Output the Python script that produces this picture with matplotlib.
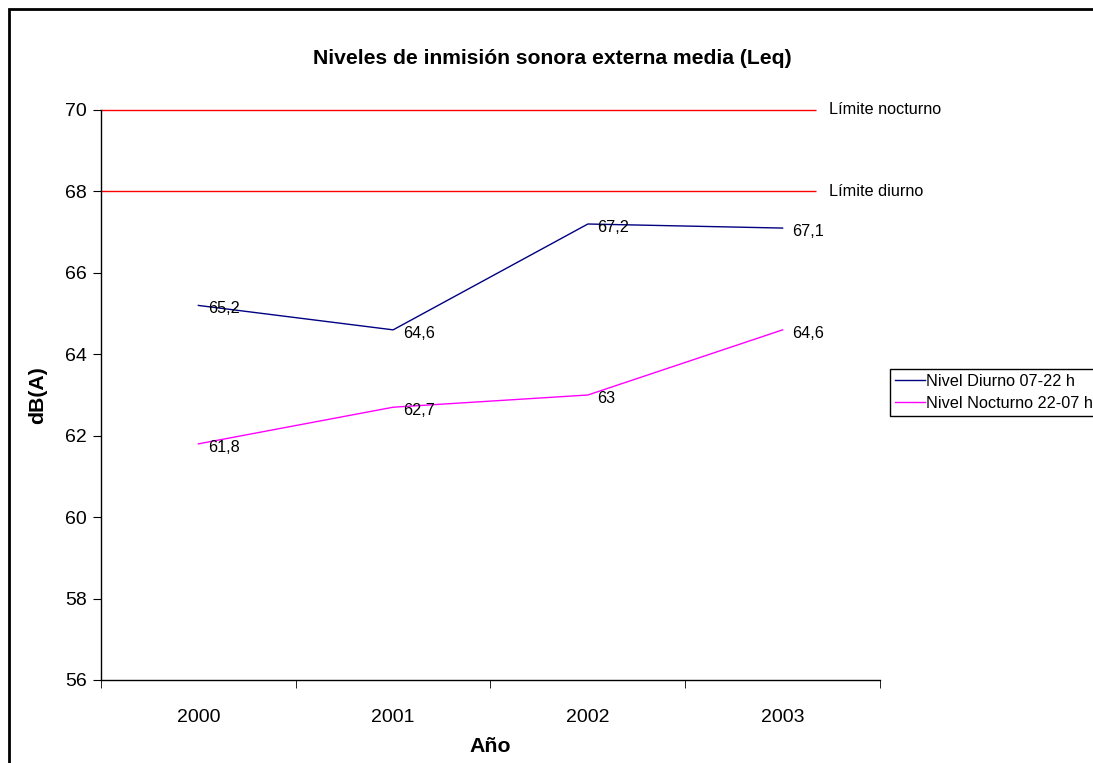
import matplotlib
matplotlib.use("Agg")
import matplotlib.pyplot as plt
from matplotlib.patches import Rectangle

plt.rcParams['font.family'] = ['Liberation Sans', 'DejaVu Sans']

# datos
anios = ['2000', '2001', '2002', '2003']
nivel_diurno = [65.2, 64.6, 67.2, 67.1]
nivel_nocturno = [61.8, 62.7, 63, 64.6]
etiquetas_diurno = ['65,2', '64,6', '67,2', '67,1']
etiquetas_nocturno = ['61,8', '62,7', '63', '64,6']
limite_nocturno = 70
limite_diurno = 68
yticks = [56, 58, 60, 62, 64, 66, 68, 70]

fig = plt.figure(figsize=(10.93, 7.63), dpi=100)
ax = fig.add_axes([101 / 1093, 1 - 680 / 763, 779 / 1093, 570 / 763])

x = list(range(len(anios)))

# límites
for lim, txt in [(limite_nocturno, 'Límite nocturno'), (limite_diurno, 'Límite diurno')]:
    ax.hlines(lim, -0.5, 3.17, color='#FF0000', lw=1.0, clip_on=False)
    ax.text(3.24, lim, txt, fontsize=11.7, va='center', ha='left', clip_on=False)

ax.plot(x, nivel_diurno, color='#000080', lw=1.0, label='Nivel Diurno 07-22 h')
ax.plot(x, nivel_nocturno, color='#FF00FF', lw=1.0, label='Nivel Nocturno 22-07 h')

for xi, v, t in zip(x, nivel_diurno, etiquetas_diurno):
    ax.annotate(t, (xi, v), xytext=(7, -2.5), textcoords='offset points',
                fontsize=11.7, ha='left', va='center')
for xi, v, t in zip(x, nivel_nocturno, etiquetas_nocturno):
    ax.annotate(t, (xi, v), xytext=(7, -2.5), textcoords='offset points',
                fontsize=11.7, ha='left', va='center')

ax.set_xlim(-0.5, 3.5)
ax.set_ylim(56, 70)
ax.set_yticks(yticks)
ax.set_yticklabels([str(v) for v in yticks], fontsize=14)
ax.set_xticks(x)
ax.set_xticklabels(anios, fontsize=14)
ax.tick_params(axis='x', which='major', length=0, pad=21)
ax.set_xticks([-0.5, 0.5, 1.5, 2.5, 3.5], minor=True)
ax.tick_params(axis='x', which='minor', length=6, direction='out')
ax.tick_params(axis='y', length=6, direction='out', pad=4)

for s in ['top', 'right']:
    ax.spines[s].set_visible(False)
for s in ['left', 'bottom']:
    ax.spines[s].set_linewidth(1.0)

ax.set_xlabel('Año', fontsize=15.3, fontweight='bold', labelpad=8)
ax.set_ylabel('dB(A)', fontsize=15.3, fontweight='bold', labelpad=13)

fig.text(0.505, 1 - 58 / 763, 'Niveles de inmisión sonora externa media (Leq)',
         fontsize=15.2, fontweight='bold', ha='center', va='center')

leg = ax.legend(loc='upper left', bbox_to_anchor=(890 / 1093, 1 - 369 / 763),
                bbox_transform=fig.transFigure, fontsize=11.7, frameon=True,
                fancybox=False, edgecolor='black', framealpha=1,
                handlelength=1.85, handletextpad=0.05, borderpad=0.3,
                labelspacing=0.45, borderaxespad=0)
leg.get_frame().set_linewidth(1.0)

# marco del gráfico
fig.patches.append(Rectangle((9 / 1093, -0.1), 1.2, 1 - 9 / 763 + 0.1,
                             transform=fig.transFigure, fill=False,
                             edgecolor='black', lw=2))

fig.savefig('out.png', dpi=100)
